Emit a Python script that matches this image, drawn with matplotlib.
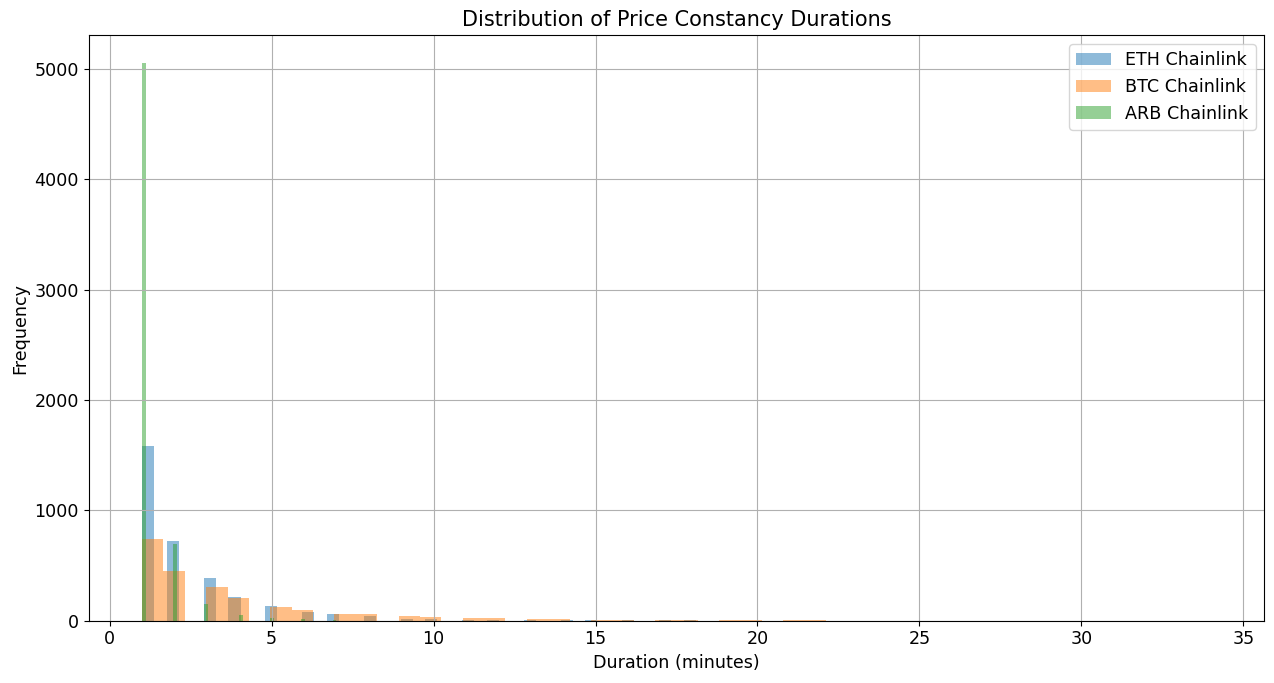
import numpy as np
import matplotlib
matplotlib.use("Agg")
import matplotlib.pyplot as plt

# durations (minutes) and how often each occurred
eth_durations = [1, 2, 3, 4, 5, 6, 7, 8, 9, 10, 11, 12, 13, 14, 15, 16, 17, 18, 19, 20]
eth_counts = [1580, 719, 387, 217, 135, 75, 60, 40, 20, 15, 10, 8, 10, 5, 4, 3, 2, 2, 1, 1]

btc_durations = [1, 2, 3, 4, 5, 6, 7, 8, 9, 10, 11, 12, 13, 14, 15, 16, 17, 18, 19, 20,
                 21, 22, 23, 24, 25, 26, 27, 28, 29, 30, 31, 32, 33, 34]
btc_counts = [743, 447, 308, 205, 120, 100, 65, 65, 42, 30, 25, 25, 14, 12, 9, 9, 8, 2, 2, 7,
              2, 7, 1, 1, 1, 1, 1, 1, 1, 1, 1, 1, 1, 1]

arb_durations = [1, 2, 3, 4, 5, 6, 7]
arb_counts = [5050, 695, 151, 54, 25, 12, 10]

plt.rcParams["font.size"] = 12.6
plt.rcParams["axes.titlesize"] = 15

fig = plt.figure(figsize=(12.74, 6.83), dpi=100)
ax = fig.add_axes([0.0696, 0.0912, 0.9228, 0.8571])

ax.hist(eth_durations, bins=50, weights=eth_counts, alpha=0.5, label="ETH Chainlink")
ax.hist(btc_durations, bins=50, weights=btc_counts, alpha=0.5, label="BTC Chainlink")
ax.hist(arb_durations, bins=50, weights=arb_counts, alpha=0.5, label="ARB Chainlink")

ax.set_title("Distribution of Price Constancy Durations", pad=7)
ax.set_xlabel("Duration (minutes)")
ax.set_ylabel("Frequency")
ax.legend()
ax.grid(True)

fig.savefig("out.png", dpi=100)
plt.close()
